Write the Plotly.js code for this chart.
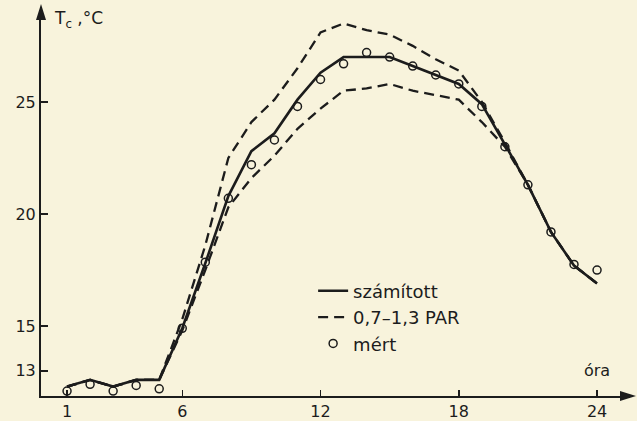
<!DOCTYPE html>
<html><head><meta charset="utf-8">
<script src="https://cdn.plot.ly/plotly-3.0.1.min.js"></script>
<style>html,body{margin:0;padding:0;background:#f8f3dc;}</style>
</head><body><div id="chart" style="width:637px;height:421px;"></div>
<script>
const hours = [1,2,3,4,5,6,7,8,9,10,11,12,13,14,15,16,17,18,19,20,21,22,23,24];
const szamitott = [12.3,12.6,12.3,12.6,12.6,14.9,17.8,20.8,22.8,23.6,25.1,26.3,27.0,27.0,27.0,26.6,26.2,25.8,24.9,23.1,21.3,19.2,17.7,16.9];
const parUpper = [12.3,12.6,12.3,12.6,12.6,15.3,18.6,22.5,24.1,25.1,26.5,28.1,28.5,28.2,28.0,27.5,26.9,26.4,25.0,23.2,21.3,19.2,17.7,16.9];
const parLower = [12.3,12.6,12.3,12.6,12.6,14.8,17.5,20.3,21.6,22.6,23.8,24.7,25.5,25.6,25.8,25.5,25.3,25.1,24.1,23.0,21.3,19.2,17.7,16.9];
const mert = [12.1,12.4,12.1,12.35,12.2,14.9,17.85,20.7,22.2,23.3,24.8,26.0,26.7,27.2,27.0,26.6,26.2,25.8,24.8,23.0,21.3,19.2,17.75,17.5];
const xTicks = [1,6,12,18,24];
const yTicks = [13,15,20,25];
const ink = '#1c1c1c';
const font = 'DejaVu Sans, Liberation Sans, sans-serif';

const traces = [
  {x: hours, y: szamitott, mode: 'lines', name: 'számított', line: {color: ink, width: 2.6}},
  {x: hours, y: parUpper, mode: 'lines', name: '0,7–1,3 PAR', legendgroup: 'par', line: {color: ink, width: 2.3, dash: '10px,6px'}},
  {x: hours, y: parLower, mode: 'lines', name: '0,7–1,3 PAR', legendgroup: 'par', showlegend: false, line: {color: ink, width: 2.3, dash: '10px,6px'}},
  {x: hours, y: mert, mode: 'markers', name: 'mért', marker: {symbol: 'circle-open', size: 8, color: ink, line: {width: 1.5, color: ink}}}
];

const layout = {
  width: 637, height: 421,
  paper_bgcolor: '#f8f3dc', plot_bgcolor: '#f8f3dc',
  margin: {l: 41, r: 7, t: 10, b: 25},
  font: {family: font, color: ink, size: 15},
  showlegend: true,
  legend: {x: 0.462, y: 0.32, xanchor: 'left', yanchor: 'top', bgcolor: 'rgba(0,0,0,0)', font: {size: 18, family: font, color: ink}, tracegroupgap: 0},
  xaxis: {range: [-0.13, 25.43], tickvals: xTicks, ticktext: xTicks.map(String), ticks: 'inside', ticklen: 6, tickwidth: 1.5, tickcolor: ink,
          showline: true, linecolor: ink, linewidth: 2, showgrid: false, zeroline: false, tickfont: {size: 16}},
  yaxis: {range: [11.88, 29.1], tickvals: yTicks, ticktext: yTicks.map(String), ticks: 'inside', ticklen: 7, tickwidth: 1.5, tickcolor: ink,
          showline: true, linecolor: ink, linewidth: 2, showgrid: false, zeroline: false, tickfont: {size: 16}},
  shapes: [
    {type: 'path', xref: 'paper', yref: 'paper', xsizemode: 'pixel', ysizemode: 'pixel', xanchor: 0, yanchor: 1,
     path: 'M-5,-10 L0,6 L5,-10 Z', fillcolor: ink, line: {width: 0}},
    {type: 'path', xref: 'paper', yref: 'paper', xsizemode: 'pixel', ysizemode: 'pixel', xanchor: 1, yanchor: 0,
     path: 'M-10,-5 L6,0 L-10,5 Z', fillcolor: ink, line: {width: 0}}
  ],
  annotations: [
    {xref: 'paper', yref: 'paper', x: 0.018, y: 0.975, xanchor: 'left', yanchor: 'middle', text: 'T<sub>c</sub> ,°C', showarrow: false, font: {size: 17}},
    {xref: 'x', yref: 'paper', x: 24, y: 0.035, xanchor: 'center', yanchor: 'bottom', text: 'óra', showarrow: false, font: {size: 16}}
  ]
};
Plotly.newPlot('chart', traces, layout, {displayModeBar: false, staticPlot: true});
</script></body></html>
